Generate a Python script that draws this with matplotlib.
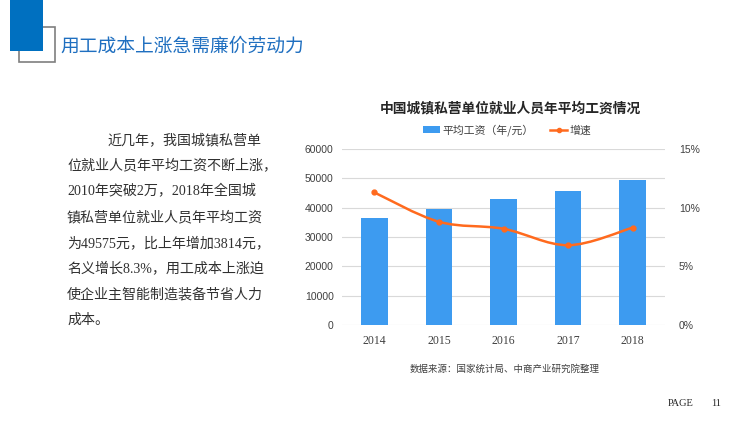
import matplotlib.pyplot as plt
import numpy as np
from matplotlib.path import Path
from matplotlib.patches import PathPatch, Rectangle, Patch
from matplotlib.lines import Line2D

plt.rcParams['font.family'] = ['Noto Sans CJK SC', 'DejaVu Sans']

# data
years = ['2014', '2015', '2016', '2017', '2018']
wage = [36390, 39589, 42833, 45761, 49575]
growth = [11.3, 8.8, 8.2, 6.8, 8.3]

page_title = '用工成本上涨急需廉价劳动力'
chart_title = '中国城镇私营单位就业人员年平均工资情况'
para_lines = [
    '近几年，我国城镇私营单',
    '位就业人员年平均工资不断上涨，',
    '2010年突破2万，2018年全国城',
    '镇私营单位就业人员年平均工资',
    '为49575元，比上年增加3814元，',
    '名义增长8.3%，用工成本上涨迫',
    '使企业主智能制造装备节省人力',
    '成本。',
]
source = '数据来源：国家统计局、中商产业研究院整理'

W, H = 750, 421
fig = plt.figure(figsize=(W / 100, H / 100), dpi=100)


def fx(px):
    return px / W


def fy(py):
    return 1 - py / H


# header decoration
fig.patches.append(Rectangle((fx(19), fy(62)), fx(36), 35 / H, fill=False,
                             edgecolor='#7f7f7f', linewidth=1.2,
                             transform=fig.transFigure))
fig.patches.append(Rectangle((fx(10), fy(51)), fx(33), 51 / H,
                             facecolor='#0070C0', edgecolor='none',
                             transform=fig.transFigure))
fig.text(fx(60), fy(46), page_title, fontsize=13.5, color='#1F6FC0',
         va='center', ha='left')

# paragraph
for i, line in enumerate(para_lines):
    x = 107 if i == 0 else 67
    fig.text(fx(x), fy(140 + i * 25.7), line, fontsize=10.1, color='#303030',
             family=['Liberation Serif', 'Noto Sans CJK SC'],
             va='center', ha='left')

# chart
ax = fig.add_axes([fx(342), fy(325), fx(665 - 342), (325 - 149) / H])
x = np.arange(len(years))
ax.bar(x, wage, width=0.41, color='#3D9BF0', zorder=2)
ax.set_xlim(-0.5, 4.5)
ax.set_ylim(0, 60000)
ax.set_yticks(np.arange(0, 60001, 10000))
ax.set_xticks(x)
ax.set_xticklabels(years, family=['Liberation Serif', 'DejaVu Serif'],
                   fontsize=8.5)
ax.set_yticklabels([str(v) for v in range(0, 60001, 10000)],
                   family=['Liberation Sans', 'DejaVu Sans'], fontsize=7.5)
ax.grid(axis='y', color='#d9d9d9', linewidth=0.8, zorder=0)
for s in ax.spines.values():
    s.set_visible(False)
ax.tick_params(length=0, colors='#404040')
ax.tick_params(axis='y', pad=6)
ax.tick_params(axis='x', pad=7)

ax2 = ax.twinx()
ax2.set_ylim(0, 15)
ax2.set_yticks([0, 5, 10, 15])
ax2.set_yticklabels(['0%', '5%', '10%', '15%'],
                    family=['Liberation Sans', 'DejaVu Sans'], fontsize=7.5)
for s in ax2.spines.values():
    s.set_visible(False)
ax2.tick_params(length=0, colors='#404040', pad=10)

# smooth line through points (Catmull-Rom as cubic Bezier)
px = x.astype(float)
py = np.array(growth, dtype=float)
verts = [(px[0], py[0])]
codes = [Path.MOVETO]
n = len(px)
for i in range(n - 1):
    p0 = (px[max(i - 1, 0)], py[max(i - 1, 0)])
    p1 = (px[i], py[i])
    p2 = (px[i + 1], py[i + 1])
    p3 = (px[min(i + 2, n - 1)], py[min(i + 2, n - 1)])
    t = 0.5 / 3
    c1 = (p1[0] + (p2[0] - p0[0]) * t, p1[1] + (p2[1] - p0[1]) * t)
    c2 = (p2[0] - (p3[0] - p1[0]) * t, p2[1] - (p3[1] - p1[1]) * t)
    verts += [c1, c2, p2]
    codes += [Path.CURVE4] * 3
ax2.add_patch(PathPatch(Path(verts, codes), facecolor='none',
                        edgecolor='#FF6A1E', linewidth=1.8, zorder=3))
ax2.plot(px, py, linestyle='none', marker='o', markersize=3.5,
         color='#FF6A1E', zorder=4)

fig.text(fx(510), fy(108), chart_title, fontsize=9.9, fontweight='bold',
         color='#262626', ha='center', va='center')
handles = [Patch(facecolor='#3D9BF0', edgecolor='none'),
           Line2D([], [], color='#FF6A1E', marker='o', markersize=3, linewidth=1.8)]
fig.legend(handles, ['平均工资（年/元）', '增速'], loc='center',
           bbox_to_anchor=(fx(507), fy(130)), ncol=2, frameon=False,
           fontsize=7.8, handlelength=1.6, handleheight=0.6,
           columnspacing=1.5, handletextpad=0.2, labelcolor='#404040')

fig.text(fx(505), fy(369), source, fontsize=6.8, color='#404040',
         ha='center', va='center')
fig.text(fx(668), fy(404), 'PAGE', fontsize=7.5, color='#262626',
         family=['Liberation Serif'], ha='left', va='center')
fig.text(fx(711), fy(404), '11', fontsize=7.5, color='#262626',
         family=['Liberation Serif'], ha='left', va='center')

fig.savefig('out.png', dpi=100)
